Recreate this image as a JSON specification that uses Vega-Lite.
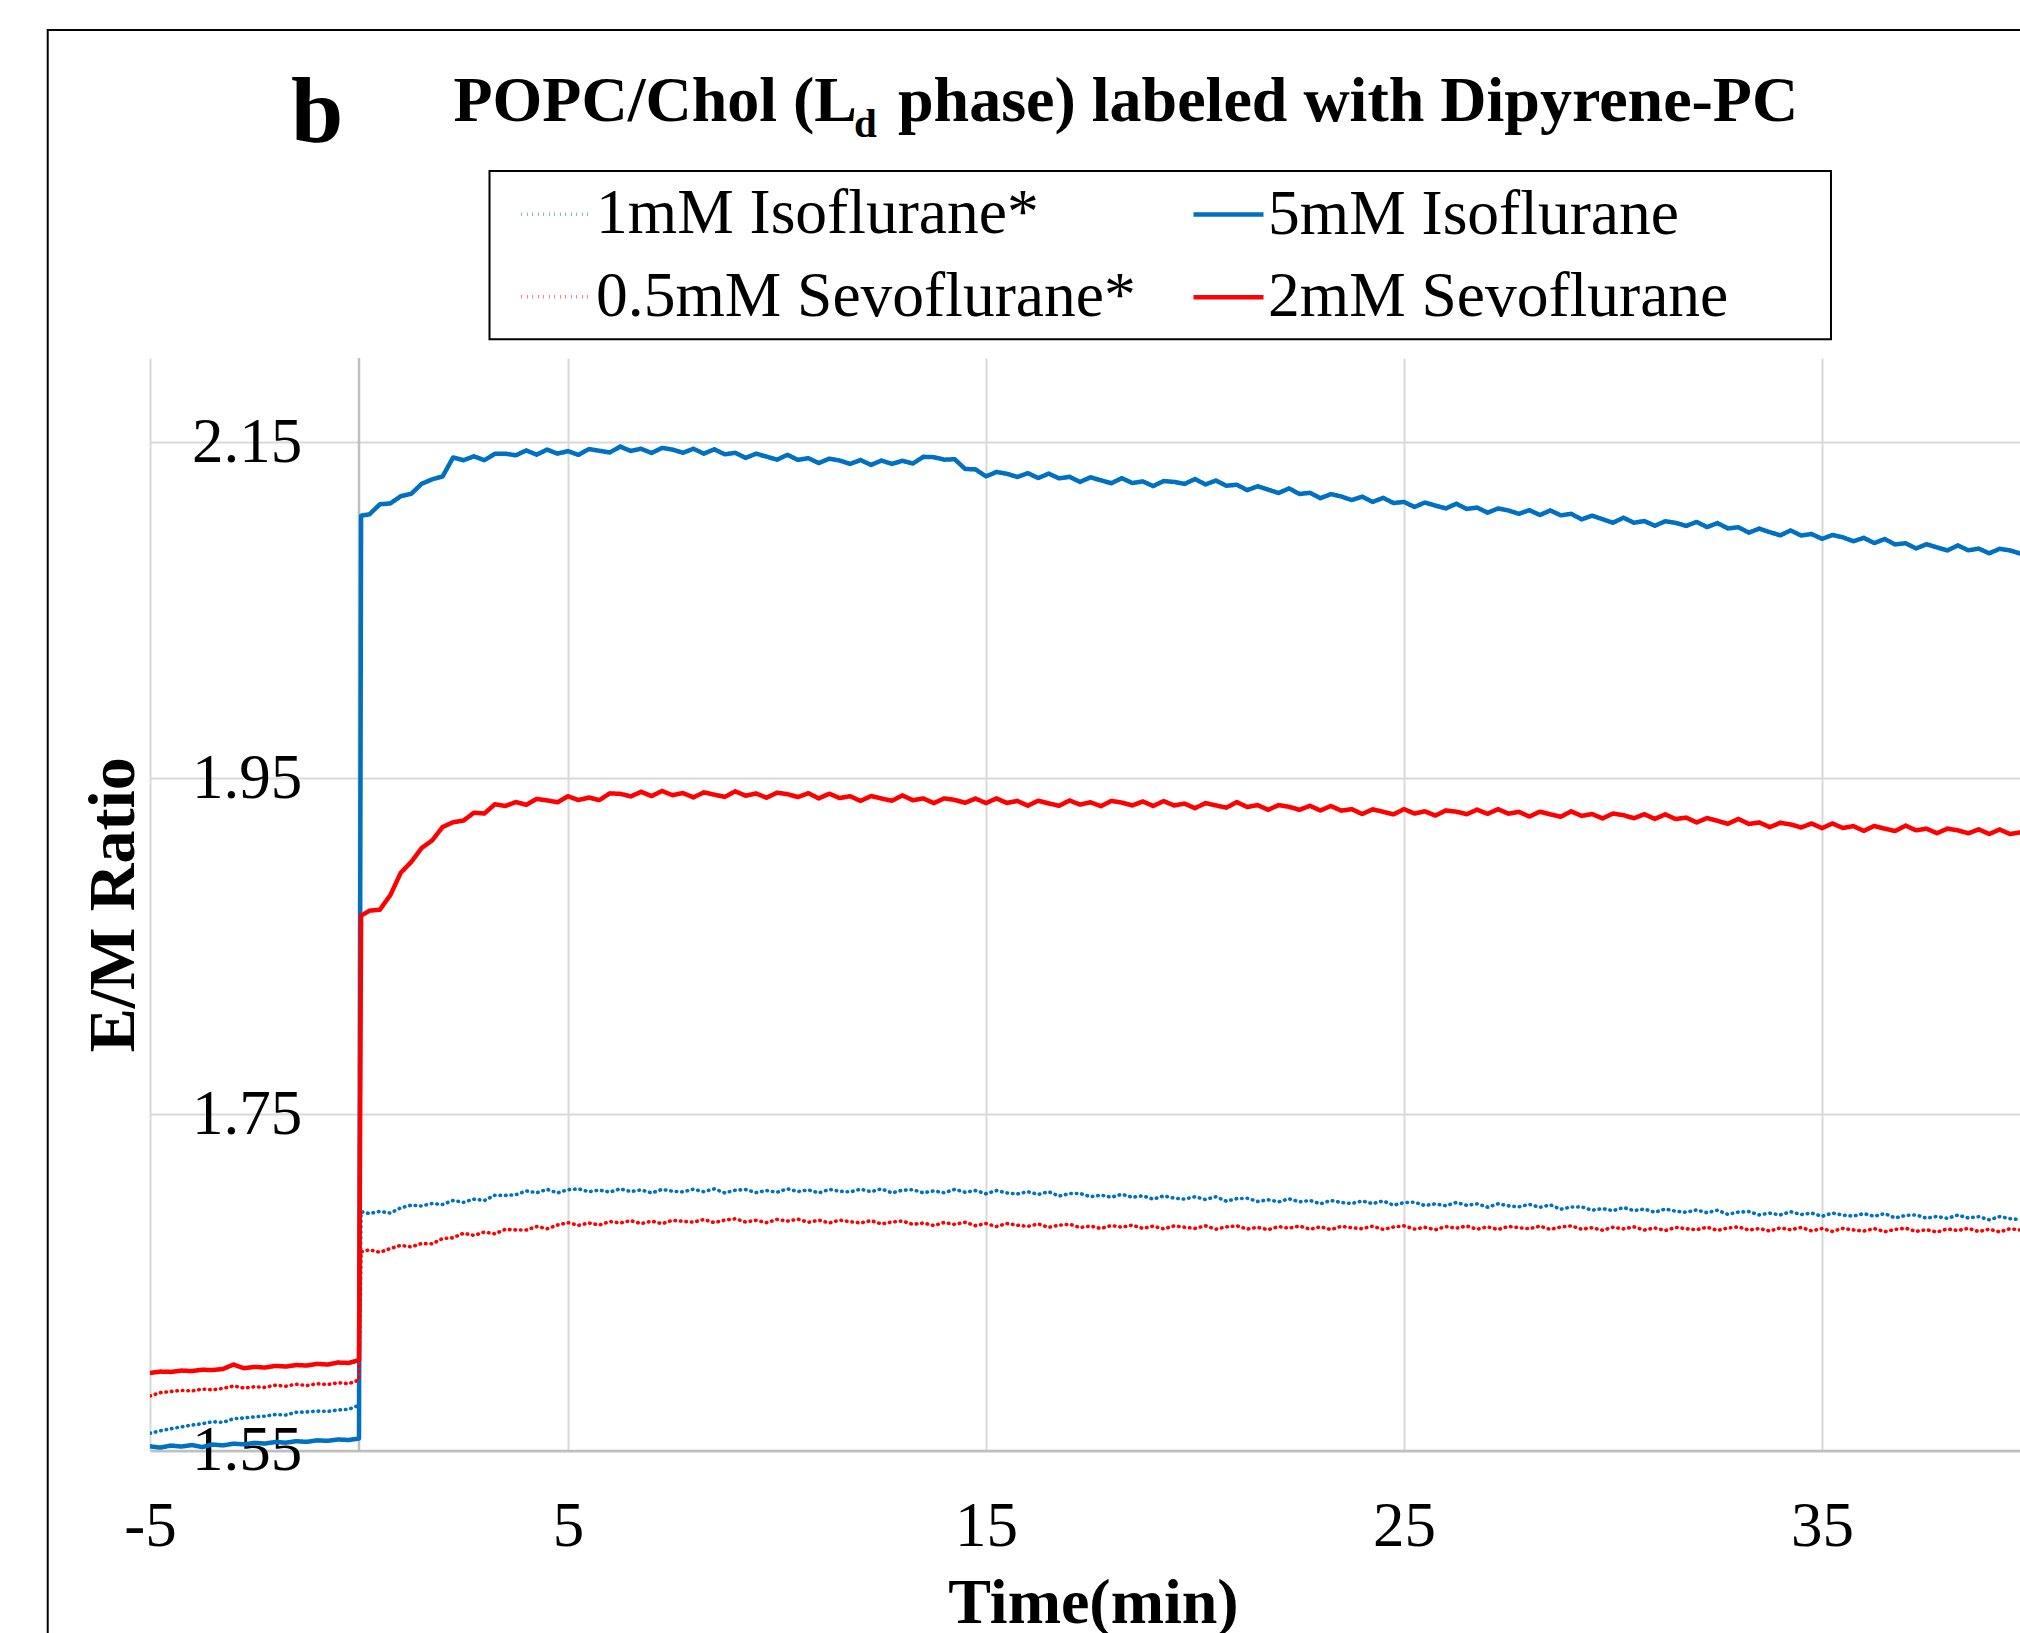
{
  "$schema": "https://vega.github.io/schema/vega-lite/v6.json",
  "width": 1870,
  "height": 1092.6,
  "autosize": {"type": "none"},
  "padding": {"left": 150, "top": 358, "right": 0, "bottom": 182.4},
  "background": "white",
  "data": {"values": [{}]},
  "datasets": {
    "traces": [
      {"t":-5,"a":1.5603,"b":1.5525,"c":1.5825,"d":1.5962},
      {"t":-4.75,"a":1.5618,"b":1.5518,"c":1.5845,"d":1.5970},
      {"t":-4.5,"a":1.5630,"b":1.5530,"c":1.5852,"d":1.5968},
      {"t":-4.25,"a":1.5641,"b":1.5524,"c":1.5858,"d":1.5976},
      {"t":-4,"a":1.5652,"b":1.5533,"c":1.5855,"d":1.5973},
      {"t":-3.75,"a":1.5660,"b":1.5521,"c":1.5866,"d":1.5981},
      {"t":-3.5,"a":1.5672,"b":1.5536,"c":1.5862,"d":1.5979},
      {"t":-3.25,"a":1.5668,"b":1.5531,"c":1.5870,"d":1.5986},
      {"t":-3,"a":1.5690,"b":1.5541,"c":1.5884,"d":1.6012},
      {"t":-2.75,"a":1.5694,"b":1.5537,"c":1.5872,"d":1.5990},
      {"t":-2.5,"a":1.5701,"b":1.5546,"c":1.5880,"d":1.5998},
      {"t":-2.25,"a":1.5705,"b":1.5542,"c":1.5876,"d":1.5994},
      {"t":-2,"a":1.5715,"b":1.5551,"c":1.5889,"d":1.6004},
      {"t":-1.75,"a":1.5712,"b":1.5547,"c":1.5883,"d":1.6000},
      {"t":-1.5,"a":1.5728,"b":1.5556,"c":1.5895,"d":1.6009},
      {"t":-1.25,"a":1.5730,"b":1.5552,"c":1.5887,"d":1.6006},
      {"t":-1,"a":1.5735,"b":1.5561,"c":1.5898,"d":1.6016},
      {"t":-0.75,"a":1.5733,"b":1.5558,"c":1.5893,"d":1.6012},
      {"t":-0.5,"a":1.5742,"b":1.5566,"c":1.5904,"d":1.6024},
      {"t":-0.25,"a":1.5745,"b":1.5563,"c":1.5898,"d":1.6021},
      {"t":0,"a":1.5770,"b":1.5572,"c":1.5920,"d":1.6038},
      {"t":0.05,"a":1.6921,"b":2.1062,"c":1.6683,"d":1.8682},
      {"t":0.25,"a":1.6910,"b":2.1070,"c":1.6694,"d":1.8712},
      {"t":0.5,"a":1.6923,"b":2.1130,"c":1.6680,"d":1.8718},
      {"t":0.75,"a":1.6913,"b":2.1135,"c":1.6702,"d":1.8805},
      {"t":1,"a":1.6944,"b":2.1178,"c":1.6721,"d":1.8938},
      {"t":1.25,"a":1.6960,"b":2.1192,"c":1.6712,"d":1.9002},
      {"t":1.5,"a":1.6955,"b":2.1252,"c":1.6732,"d":1.9085},
      {"t":1.75,"a":1.6970,"b":2.1278,"c":1.6730,"d":1.9130},
      {"t":2,"a":1.6964,"b":2.1295,"c":1.6762,"d":1.9210},
      {"t":2.25,"a":1.6988,"b":2.1408,"c":1.6766,"d":1.9238},
      {"t":2.5,"a":1.6977,"b":2.1392,"c":1.6793,"d":1.9248},
      {"t":2.75,"a":1.6996,"b":2.1415,"c":1.6780,"d":1.9295},
      {"t":3,"a":1.6988,"b":2.1392,"c":1.6800,"d":1.9290},
      {"t":3.25,"a":1.7019,"b":2.1430,"c":1.6790,"d":1.9345},
      {"t":3.5,"a":1.7018,"b":2.1431,"c":1.6816,"d":1.9335},
      {"t":3.75,"a":1.7022,"b":2.1421,"c":1.6813,"d":1.9358},
      {"t":4,"a":1.7045,"b":2.1450,"c":1.6812,"d":1.9342},
      {"t":4.25,"a":1.7034,"b":2.1425,"c":1.6833,"d":1.9377},
      {"t":4.5,"a":1.7054,"b":2.1455,"c":1.6820,"d":1.9368},
      {"t":4.75,"a":1.7033,"b":2.1431,"c":1.6842,"d":1.9357},
      {"t":5,"a":1.7052,"b":2.1446,"c":1.6856,"d":1.9393},
      {"t":5.25,"a":1.7057,"b":2.1424,"c":1.6840,"d":1.9370},
      {"t":5.5,"a":1.7040,"b":2.1458,"c":1.6854,"d":1.9385},
      {"t":5.75,"a":1.7050,"b":2.1448,"c":1.6842,"d":1.9370},
      {"t":6,"a":1.7038,"b":2.1438,"c":1.6863,"d":1.9410},
      {"t":6.25,"a":1.7057,"b":2.1473,"c":1.6854,"d":1.9407},
      {"t":6.5,"a":1.7041,"b":2.1447,"c":1.6868,"d":1.9392},
      {"t":6.75,"a":1.7051,"b":2.1460,"c":1.6850,"d":1.9419},
      {"t":7,"a":1.7033,"b":2.1435,"c":1.6865,"d":1.9394},
      {"t":7.25,"a":1.7054,"b":2.1465,"c":1.6850,"d":1.9424},
      {"t":7.5,"a":1.7043,"b":2.1455,"c":1.6870,"d":1.9399},
      {"t":7.75,"a":1.7039,"b":2.1436,"c":1.6864,"d":1.9412},
      {"t":8,"a":1.7055,"b":2.1460,"c":1.6859,"d":1.9386},
      {"t":8.25,"a":1.7040,"b":2.1431,"c":1.6875,"d":1.9416},
      {"t":8.5,"a":1.7057,"b":2.1457,"c":1.6856,"d":1.9402},
      {"t":8.75,"a":1.7033,"b":2.1427,"c":1.6871,"d":1.9389},
      {"t":9,"a":1.7049,"b":2.1436,"c":1.6879,"d":1.9422},
      {"t":9.25,"a":1.7053,"b":2.1406,"c":1.6860,"d":1.9396},
      {"t":9.5,"a":1.7035,"b":2.1431,"c":1.6870,"d":1.9409},
      {"t":9.75,"a":1.7047,"b":2.1413,"c":1.6856,"d":1.9384},
      {"t":10,"a":1.7037,"b":2.1395,"c":1.6875,"d":1.9414},
      {"t":10.25,"a":1.7057,"b":2.1424,"c":1.6865,"d":1.9405},
      {"t":10.5,"a":1.7041,"b":2.1394,"c":1.6877,"d":1.9388},
      {"t":10.75,"a":1.7051,"b":2.1404,"c":1.6858,"d":1.9411},
      {"t":11,"a":1.7033,"b":2.1375,"c":1.6871,"d":1.9380},
      {"t":11.25,"a":1.7054,"b":2.1401,"c":1.6854,"d":1.9408},
      {"t":11.5,"a":1.7043,"b":2.1390,"c":1.6871,"d":1.9382},
      {"t":11.75,"a":1.7039,"b":2.1370,"c":1.6862,"d":1.9393},
      {"t":12,"a":1.7055,"b":2.1393,"c":1.6854,"d":1.9365},
      {"t":12.25,"a":1.7040,"b":2.1364,"c":1.6868,"d":1.9394},
      {"t":12.5,"a":1.7057,"b":2.1390,"c":1.6848,"d":1.9379},
      {"t":12.75,"a":1.7033,"b":2.1370,"c":1.6860,"d":1.9366},
      {"t":13,"a":1.7049,"b":2.1388,"c":1.6866,"d":1.9398},
      {"t":13.25,"a":1.7052,"b":2.1372,"c":1.6846,"d":1.9369},
      {"t":13.5,"a":1.7034,"b":2.1412,"c":1.6854,"d":1.9380},
      {"t":13.75,"a":1.7045,"b":2.1410,"c":1.6839,"d":1.9352},
      {"t":14,"a":1.7034,"b":2.1395,"c":1.6857,"d":1.9380},
      {"t":14.25,"a":1.7054,"b":2.1398,"c":1.6846,"d":1.9371},
      {"t":14.5,"a":1.7037,"b":2.1340,"c":1.6858,"d":1.9354},
      {"t":14.75,"a":1.7047,"b":2.1337,"c":1.6838,"d":1.9379},
      {"t":15,"a":1.7028,"b":2.1296,"c":1.6851,"d":1.9352},
      {"t":15.25,"a":1.7047,"b":2.1322,"c":1.6833,"d":1.9380},
      {"t":15.5,"a":1.7033,"b":2.1311,"c":1.6851,"d":1.9353},
      {"t":15.75,"a":1.7027,"b":2.1292,"c":1.6841,"d":1.9365},
      {"t":16,"a":1.7040,"b":2.1315,"c":1.6834,"d":1.9337},
      {"t":16.25,"a":1.7024,"b":2.1286,"c":1.6848,"d":1.9366},
      {"t":16.5,"a":1.7040,"b":2.1312,"c":1.6828,"d":1.9350},
      {"t":16.75,"a":1.7014,"b":2.1284,"c":1.6841,"d":1.9336},
      {"t":17,"a":1.7029,"b":2.1293,"c":1.6847,"d":1.9368},
      {"t":17.25,"a":1.7030,"b":2.1263,"c":1.6827,"d":1.9343},
      {"t":17.5,"a":1.7010,"b":2.1290,"c":1.6836,"d":1.9357},
      {"t":17.75,"a":1.7020,"b":2.1272,"c":1.6821,"d":1.9334},
      {"t":18,"a":1.7007,"b":2.1255,"c":1.6839,"d":1.9365},
      {"t":18.25,"a":1.7025,"b":2.1285,"c":1.6829,"d":1.9355},
      {"t":18.5,"a":1.7007,"b":2.1256,"c":1.6841,"d":1.9338},
      {"t":18.75,"a":1.7016,"b":2.1266,"c":1.6822,"d":1.9362},
      {"t":19,"a":1.6996,"b":2.1238,"c":1.6835,"d":1.9335},
      {"t":19.25,"a":1.7015,"b":2.1268,"c":1.6819,"d":1.9364},
      {"t":19.5,"a":1.7002,"b":2.1263,"c":1.6837,"d":1.9338},
      {"t":19.75,"a":1.6996,"b":2.1251,"c":1.6829,"d":1.9349},
      {"t":20,"a":1.7010,"b":2.1280,"c":1.6822,"d":1.9322},
      {"t":20.25,"a":1.6994,"b":2.1248,"c":1.6837,"d":1.9352},
      {"t":20.5,"a":1.7010,"b":2.1271,"c":1.6817,"d":1.9338},
      {"t":20.75,"a":1.6984,"b":2.1240,"c":1.6831,"d":1.9325},
      {"t":21,"a":1.6999,"b":2.1246,"c":1.6837,"d":1.9358},
      {"t":21.25,"a":1.7001,"b":2.1214,"c":1.6818,"d":1.9329},
      {"t":21.5,"a":1.6982,"b":2.1237,"c":1.6828,"d":1.9340},
      {"t":21.75,"a":1.6992,"b":2.1217,"c":1.6814,"d":1.9312},
      {"t":22,"a":1.6980,"b":2.1197,"c":1.6833,"d":1.9340},
      {"t":22.25,"a":1.6998,"b":2.1224,"c":1.6823,"d":1.9330},
      {"t":22.5,"a":1.6980,"b":2.1191,"c":1.6836,"d":1.9312},
      {"t":22.75,"a":1.6988,"b":2.1198,"c":1.6817,"d":1.9336},
      {"t":23,"a":1.6968,"b":2.1166,"c":1.6831,"d":1.9308},
      {"t":23.25,"a":1.6988,"b":2.1190,"c":1.6815,"d":1.9335},
      {"t":23.5,"a":1.6976,"b":2.1176,"c":1.6834,"d":1.9307},
      {"t":23.75,"a":1.6970,"b":2.1155,"c":1.6826,"d":1.9316},
      {"t":24,"a":1.6985,"b":2.1175,"c":1.6820,"d":1.9287},
      {"t":24.25,"a":1.6969,"b":2.1144,"c":1.6835,"d":1.9315},
      {"t":24.5,"a":1.6985,"b":2.1168,"c":1.6816,"d":1.9300},
      {"t":24.75,"a":1.6960,"b":2.1137,"c":1.6830,"d":1.9285},
      {"t":25,"a":1.6975,"b":2.1144,"c":1.6837,"d":1.9316},
      {"t":25.25,"a":1.6978,"b":2.1114,"c":1.6818,"d":1.9290},
      {"t":25.5,"a":1.6958,"b":2.1140,"c":1.6828,"d":1.9303},
      {"t":25.75,"a":1.6968,"b":2.1122,"c":1.6814,"d":1.9278},
      {"t":26,"a":1.6957,"b":2.1105,"c":1.6833,"d":1.9308},
      {"t":26.25,"a":1.6976,"b":2.1133,"c":1.6823,"d":1.9301},
      {"t":26.5,"a":1.6959,"b":2.1102,"c":1.6836,"d":1.9286},
      {"t":26.75,"a":1.6968,"b":2.1110,"c":1.6817,"d":1.9313},
      {"t":27,"a":1.6948,"b":2.1080,"c":1.6831,"d":1.9288},
      {"t":27.25,"a":1.6968,"b":2.1105,"c":1.6815,"d":1.9316},
      {"t":27.5,"a":1.6956,"b":2.1093,"c":1.6834,"d":1.9289},
      {"t":27.75,"a":1.6950,"b":2.1073,"c":1.6826,"d":1.9300},
      {"t":28,"a":1.6965,"b":2.1095,"c":1.6820,"d":1.9272},
      {"t":28.25,"a":1.6947,"b":2.1066,"c":1.6835,"d":1.9301},
      {"t":28.5,"a":1.6962,"b":2.1093,"c":1.6816,"d":1.9285},
      {"t":28.75,"a":1.6936,"b":2.1064,"c":1.6830,"d":1.9271},
      {"t":29,"a":1.6949,"b":2.1073,"c":1.6837,"d":1.9303},
      {"t":29.25,"a":1.6950,"b":2.1040,"c":1.6817,"d":1.9276},
      {"t":29.5,"a":1.6930,"b":2.1062,"c":1.6826,"d":1.9287},
      {"t":29.75,"a":1.6940,"b":2.1041,"c":1.6811,"d":1.9261},
      {"t":30,"a":1.6927,"b":2.1020,"c":1.6829,"d":1.9290},
      {"t":30.25,"a":1.6946,"b":2.1050,"c":1.6819,"d":1.9280},
      {"t":30.5,"a":1.6928,"b":2.1020,"c":1.6831,"d":1.9262},
      {"t":30.75,"a":1.6937,"b":2.1030,"c":1.6812,"d":1.9286},
      {"t":31,"a":1.6918,"b":2.1002,"c":1.6825,"d":1.9258},
      {"t":31.25,"a":1.6937,"b":2.1029,"c":1.6809,"d":1.9285},
      {"t":31.5,"a":1.6924,"b":2.1019,"c":1.6828,"d":1.9257},
      {"t":31.75,"a":1.6918,"b":2.1001,"c":1.6820,"d":1.9266},
      {"t":32,"a":1.6932,"b":2.1025,"c":1.6814,"d":1.9237},
      {"t":32.25,"a":1.6915,"b":2.0994,"c":1.6829,"d":1.9263},
      {"t":32.5,"a":1.6930,"b":2.1018,"c":1.6810,"d":1.9246},
      {"t":32.75,"a":1.6905,"b":2.0986,"c":1.6824,"d":1.9229},
      {"t":33,"a":1.6919,"b":2.0993,"c":1.6831,"d":1.9258},
      {"t":33.25,"a":1.6922,"b":2.0961,"c":1.6812,"d":1.9228},
      {"t":33.5,"a":1.6902,"b":2.0985,"c":1.6821,"d":1.9237},
      {"t":33.75,"a":1.6913,"b":2.0964,"c":1.6806,"d":1.9209},
      {"t":34,"a":1.6902,"b":2.0945,"c":1.6825,"d":1.9235},
      {"t":34.25,"a":1.6921,"b":2.0974,"c":1.6814,"d":1.9225},
      {"t":34.5,"a":1.6904,"b":2.0944,"c":1.6827,"d":1.9207},
      {"t":34.75,"a":1.6913,"b":2.0953,"c":1.6807,"d":1.9231},
      {"t":35,"a":1.6894,"b":2.0924,"c":1.6821,"d":1.9203},
      {"t":35.25,"a":1.6913,"b":2.0947,"c":1.6804,"d":1.9231},
      {"t":35.5,"a":1.6901,"b":2.0933,"c":1.6822,"d":1.9204},
      {"t":35.75,"a":1.6895,"b":2.0910,"c":1.6813,"d":1.9215},
      {"t":36,"a":1.6910,"b":2.0930,"c":1.6806,"d":1.9187},
      {"t":36.25,"a":1.6894,"b":2.0899,"c":1.6821,"d":1.9216},
      {"t":36.5,"a":1.6910,"b":2.0923,"c":1.6802,"d":1.9200},
      {"t":36.75,"a":1.6884,"b":2.0891,"c":1.6816,"d":1.9186},
      {"t":37,"a":1.6899,"b":2.0898,"c":1.6823,"d":1.9218},
      {"t":37.25,"a":1.6902,"b":2.0867,"c":1.6804,"d":1.9190},
      {"t":37.5,"a":1.6883,"b":2.0892,"c":1.6814,"d":1.9200},
      {"t":37.75,"a":1.6893,"b":2.0873,"c":1.6800,"d":1.9173},
      {"t":38,"a":1.6882,"b":2.0855,"c":1.6819,"d":1.9200},
      {"t":38.25,"a":1.6901,"b":2.0885,"c":1.6809,"d":1.9190},
      {"t":38.5,"a":1.6884,"b":2.0856,"c":1.6822,"d":1.9172},
      {"t":38.75,"a":1.6892,"b":2.0866,"c":1.6803,"d":1.9196},
      {"t":39,"a":1.6873,"b":2.0838,"c":1.6817,"d":1.9168},
      {"t":39.25,"a":1.6892,"b":2.0865,"c":1.6801,"d":1.9195},
      {"t":39.5,"a":1.6880,"b":2.0855,"c":1.6820,"d":1.9168},
      {"t":39.75,"a":1.6874,"b":2.0836,"c":1.6812,"d":1.9178}
    ]
  },
  "resolve": {"axis": {"x": "independent", "y": "independent"}},
  "layer": [
    {
      "mark": {"type": "rect", "fill": "transparent", "stroke": "black", "strokeWidth": 2, "clip": false},
      "encoding": {
        "x": {"datum": -7.447, "type": "quantitative", "axis": null},
        "x2": {"datum": 50},
        "y": {"datum": 2.3951, "type": "quantitative", "axis": null},
        "y2": {"datum": 1.0}
      }
    },
    {
      "mark": {"type": "rect", "fill": "transparent", "stroke": "black", "strokeWidth": 2, "clip": false},
      "encoding": {
        "x": {"datum": 3.122, "type": "quantitative", "axis": null},
        "x2": {"datum": 35.215},
        "y": {"datum": 2.3112, "type": "quantitative", "axis": null},
        "y2": {"datum": 2.2111}
      }
    },
    {
      "mark": {"type": "rule", "color": "#bfbfbf", "strokeWidth": 2.5},
      "encoding": {
        "x": {"datum": 0, "type": "quantitative", "axis": null}
      }
    },
    {
      "mark": {"type": "text", "text": "b", "font": "Liberation Serif", "fontSize": 94, "fontWeight": "bold", "align": "left", "baseline": "alphabetic", "color": "black"},
      "encoding": {
        "x": {"datum": -1.627, "type": "quantitative", "axis": null},
        "y": {"datum": 2.3286, "type": "quantitative", "axis": null}
      }
    },
    {
      "mark": {"type": "text", "text": "POPC/Chol (L", "font": "Liberation Serif", "fontSize": 64, "fontWeight": "bold", "align": "right", "baseline": "alphabetic", "color": "black"},
      "encoding": {
        "x": {"datum": 11.914, "type": "quantitative", "axis": null},
        "y": {"datum": 2.34096, "type": "quantitative", "axis": null}
      }
    },
    {
      "mark": {"type": "text", "text": "d", "font": "Liberation Serif", "fontSize": 41, "fontWeight": "bold", "align": "left", "baseline": "alphabetic", "color": "black", "dx": -3, "dy": 16},
      "encoding": {
        "x": {"datum": 11.914, "type": "quantitative", "axis": null},
        "y": {"datum": 2.34096, "type": "quantitative", "axis": null}
      }
    },
    {
      "mark": {"type": "text", "text": "phase) labeled with Dipyrene-PC", "font": "Liberation Serif", "fontSize": 64, "fontWeight": "bold", "align": "left", "baseline": "alphabetic", "color": "black", "dx": 41},
      "encoding": {
        "x": {"datum": 11.914, "type": "quantitative", "axis": null},
        "y": {"datum": 2.34096, "type": "quantitative", "axis": null}
      }
    },
    {
      "data": {"name": "traces"},
      "transform": [{"fold": ["a", "b", "c", "d"], "as": ["k", "v"]}],
      "mark": {"type": "line", "clip": true, "strokeCap": "round", "strokeJoin": "round"},
      "encoding": {
        "x": {
          "field": "t", "type": "quantitative",
          "scale": {"domain": [-5, 39.737], "nice": false, "zero": false},
          "axis": {
            "values": [-5, 5, 15, 25, 35],
            "labelExpr": "'' + datum.value",
            "grid": true, "gridColor": "#d9d9d9", "gridWidth": 2,
            "domain": true, "domainColor": "#bfbfbf", "domainWidth": 2.5,
            "ticks": false, "tickSize": 0,
            "labelPadding": 45, "labelFontSize": 63, "labelFont": "Liberation Serif", "labelColor": "black",
            "labelFlush": false, "labelOverlap": false,
            "title": "Time(min)", "titleFont": "Liberation Serif", "titleFontSize": 64, "titleFontWeight": "bold", "titleColor": "black",
            "titleX": 943, "titleY": 172, "titleAlign": "center", "titleBaseline": "alphabetic"
          }
        },
        "y": {
          "field": "v", "type": "quantitative",
          "scale": {"domain": [1.55, 2.2], "nice": false, "zero": false},
          "axis": {
            "values": [1.55, 1.75, 1.95, 2.15],
            "format": ".2f",
            "grid": true, "gridColor": "#d9d9d9", "gridWidth": 2,
            "domain": false, "ticks": false, "tickSize": 0,
            "labelPadding": -151.7, "labelAlign": "right", "labelBaseline": "middle",
            "labelFontSize": 63, "labelFont": "Liberation Serif", "labelColor": "black",
            "labelFlush": false, "labelOverlap": false,
            "title": "E/M Ratio", "titleFont": "Liberation Serif", "titleFontSize": 66, "titleFontWeight": "bold", "titleColor": "black",
            "titleAngle": 270, "titleX": -17, "titleY": 546.3, "titleAlign": "center", "titleBaseline": "alphabetic"
          }
        },
        "color": {
          "field": "k", "type": "nominal",
          "scale": {"domain": ["a", "b", "c", "d"], "range": ["#0070C0", "#0070C0", "#FF0000", "#FF0000"]},
          "legend": {"title": null, "orient": "none", "legendX": 339.5, "legendY": -187, "columns": 2, "direction": "horizontal",
            "labelExpr": "datum.label == 'a' ? '1mM Isoflurane*' : datum.label == 'b' ? '5mM Isoflurane' : datum.label == 'c' ? '0.5mM Sevoflurane*' : '2mM Sevoflurane'"}
        },
        "strokeDash": {
          "field": "k", "type": "nominal",
          "scale": {"domain": ["a", "b", "c", "d"], "range": [[0.5, 5], [1, 0], [0.5, 5], [1, 0]]},
          "legend": {"title": null, "orient": "none", "legendX": 339.5, "legendY": -187, "columns": 2, "direction": "horizontal",
            "labelExpr": "datum.label == 'a' ? '1mM Isoflurane*' : datum.label == 'b' ? '5mM Isoflurane' : datum.label == 'c' ? '0.5mM Sevoflurane*' : '2mM Sevoflurane'"}
        },
        "strokeWidth": {
          "field": "k", "type": "nominal",
          "scale": {"type": "ordinal", "domain": ["a", "b", "c", "d"], "range": [3.6, 4.5, 3.6, 4.5]},
          "legend": {"title": null, "orient": "none", "legendX": 339.5, "legendY": -187, "columns": 2, "direction": "horizontal",
            "labelExpr": "datum.label == 'a' ? '1mM Isoflurane*' : datum.label == 'b' ? '5mM Isoflurane' : datum.label == 'c' ? '0.5mM Sevoflurane*' : '2mM Sevoflurane'"}
        }
      }
    }
  ],
  "config": {
    "view": {"stroke": null},
    "font": "Liberation Serif",
    "legend": {
      "strokeColor": null,
      "padding": 6,
      "symbolType": "stroke",
      "symbolSize": 4900,
      "symbolOffset": 23.5,
      "labelFont": "Liberation Serif",
      "labelFontSize": 63.5,
      "labelColor": "black",
      "labelLimit": 3000,
      "labelOffset": 2,
      "rowPadding": 13.7,
      "columnPadding": 31
    }
  }
}
